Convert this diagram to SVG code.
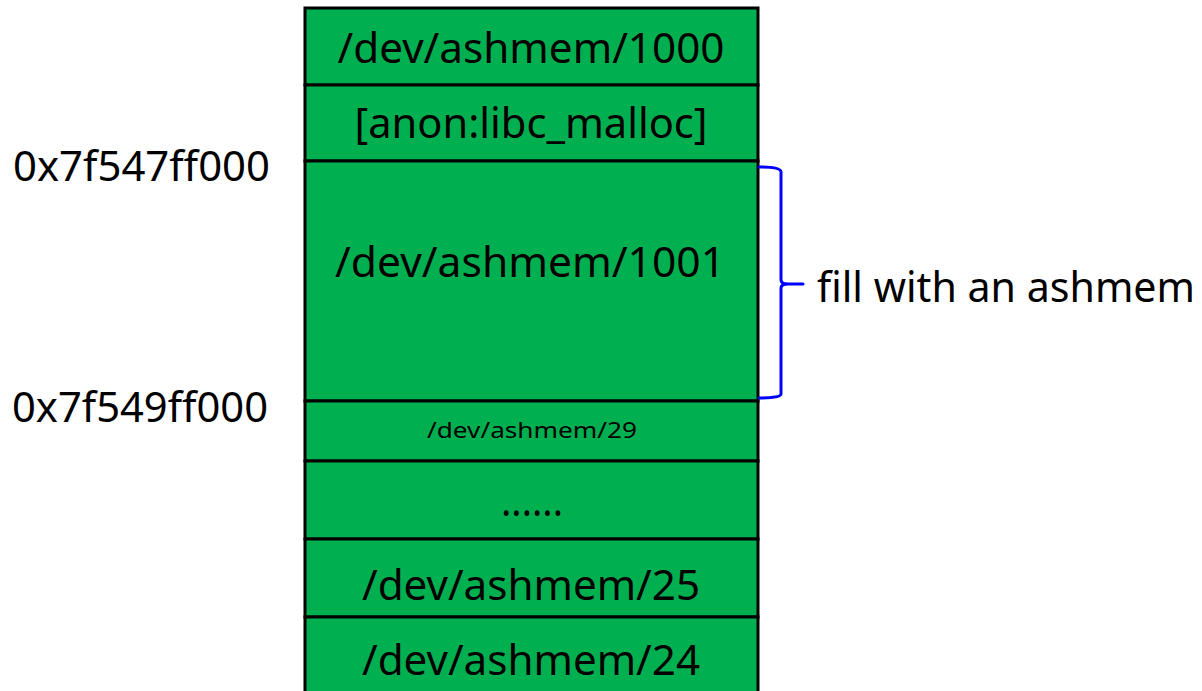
<svg xmlns="http://www.w3.org/2000/svg" width="1202" height="691" viewBox="0 0 1202 691">
<style>
.cell{fill:#00B050;stroke:#000;stroke-width:3}
.t{font-family:"Noto Sans","Open Sans",sans-serif;fill:#000;text-anchor:middle}
.l{font-family:"Noto Sans","Open Sans",sans-serif;fill:#000}
.br{fill:none;stroke:#0000FF;stroke-width:3;stroke-linejoin:round;stroke-linecap:round}
</style>
<rect width="1202" height="691" fill="#fff"/>
<g id="n1000"><rect class="cell" x="305" y="8" width="453" height="77"/><text class="t" x="531" y="63" font-size="42" textLength="387" lengthAdjust="spacingAndGlyphs">/dev/ashmem/1000</text></g>
<g id="nmalloc"><rect class="cell" x="305" y="85" width="453" height="76"/><text class="t" x="531" y="138" font-size="42" textLength="353" lengthAdjust="spacingAndGlyphs">[anon:libc_malloc]</text></g>
<g id="n1001"><rect class="cell" x="305" y="161" width="453" height="240"/><text class="t" x="530" y="277" font-size="42" textLength="390" lengthAdjust="spacingAndGlyphs">/dev/ashmem/1001</text></g>
<g id="n29"><rect class="cell" x="305" y="401" width="453" height="60"/><text class="t" x="532" y="438" font-size="22" textLength="210" lengthAdjust="spacingAndGlyphs">/dev/ashmem/29</text></g>
<g id="ndots"><rect class="cell" x="305" y="461" width="453" height="78"/><text class="t" x="532" y="516" font-size="42" textLength="62" lengthAdjust="spacingAndGlyphs">......</text></g>
<g id="n25"><rect class="cell" x="305" y="539" width="453" height="78"/><text class="t" x="531" y="600" font-size="42" textLength="338" lengthAdjust="spacingAndGlyphs">/dev/ashmem/25</text></g>
<g id="n24"><rect class="cell" x="305" y="617" width="453" height="78"/><text class="t" x="531" y="675" font-size="42" textLength="338" lengthAdjust="spacingAndGlyphs">/dev/ashmem/24</text></g>
<g id="addr1"><text class="l" x="13" y="181" font-size="42" textLength="257" lengthAdjust="spacingAndGlyphs">0x7f547ff000</text></g>
<g id="addr2"><text class="l" x="12" y="422" font-size="42" textLength="256" lengthAdjust="spacingAndGlyphs">0x7f549ff000</text></g>
<g id="connectors">
<path class="br" d="M759,167 Q781,167 781,172 L781,280 Q781,284 788,284 L803,284 M788,284 Q781,284 781,288 L781,394 Q781,398 759,398"/>
</g>
<g id="label"><text class="l" x="817" y="302" font-size="42" textLength="378" lengthAdjust="spacingAndGlyphs">fill with an ashmem</text></g>
</svg>
